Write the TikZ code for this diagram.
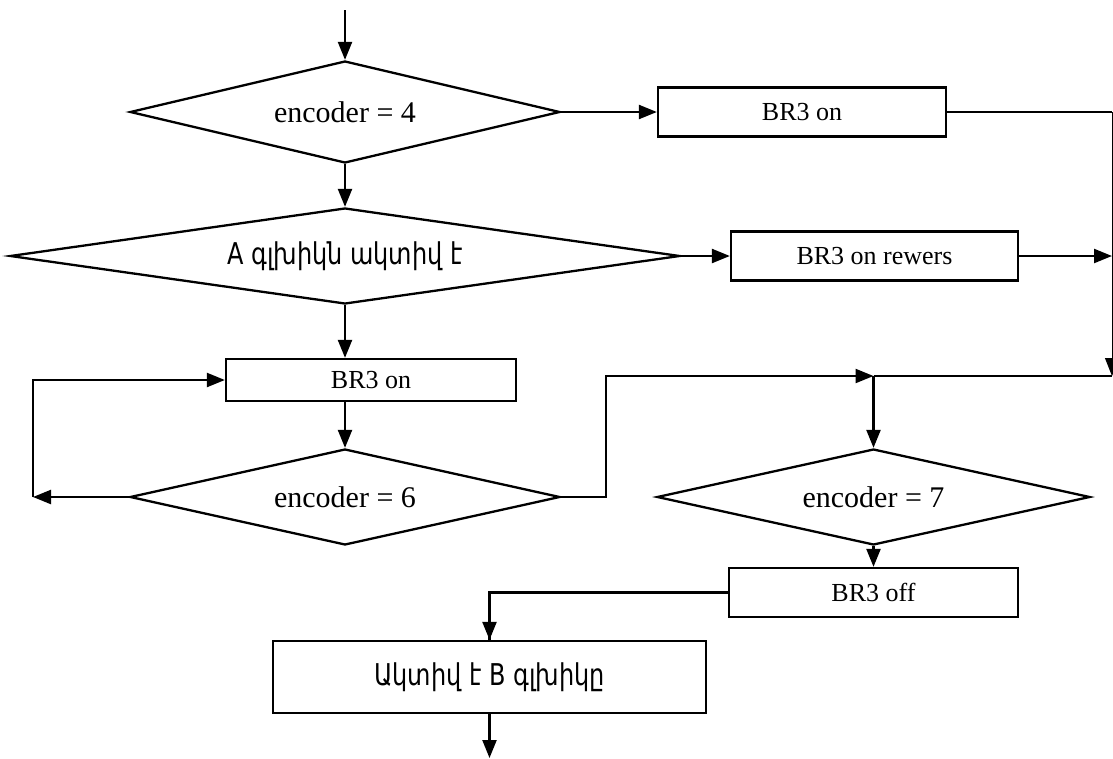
\documentclass[tikz,border=0pt]{standalone}
\usepackage{fontspec}
\setmainfont{Liberation Serif}
\newfontfamily\armfont[FakeStretch=0.8]{DejaVu Sans}
\usetikzlibrary{shapes.geometric,arrows.meta}
\begin{document}
\begin{tikzpicture}[x=1pt,y=-1pt,
  line width=2.3pt,
  tip/.style={-{Triangle[length=18pt,width=14pt]}},
  flow/.style={tip},
  decision/.style={draw,diamond,inner sep=0pt,font=\fontsize{30}{32}\selectfont},
  action/.style={draw,rectangle,inner sep=0pt,font=\fontsize{26}{28}\selectfont},
  armtext/.style={font=\armfont\fontsize{30}{32}\selectfont}]
\useasboundingbox (0,0) rectangle (1113,758);

% decisions
\node[decision,aspect=4.2,minimum width=430pt,minimum height=102pt] (d1) at (345,112) {encoder = 4};
\node[decision,armtext,aspect=7,minimum width=670pt,minimum height=96pt] (d2) at (345,256) {A գլխիկն ակտիվ  է};
\node[decision,aspect=4.5,minimum width=430pt,minimum height=96pt] (d3) at (345,497) {encoder = 6};
\node[decision,aspect=4.5,minimum width=433pt,minimum height=96pt] (d4) at (873.5,497) {encoder = 7};

% actions
\node[action,minimum width=288pt,minimum height=49pt] (b1) at (802,112) {BR3 on};
\node[action,minimum width=287pt,minimum height=49pt] (b2) at (874.5,256) {BR3 on rewers};
\node[action,minimum width=290pt,minimum height=42pt] (b3) at (371,380) {BR3 on};
\node[action,minimum width=289pt,minimum height=49pt] (b4) at (873.5,592.5) {BR3 off};
\node[action,armtext,minimum width=433pt,minimum height=72pt] (b5) at (489.5,677) {Ակտիվ է B գլխիկը};

% free ends and junctions
\coordinate (start) at (345,10);
\coordinate (stop) at (489.5,758);
\coordinate (rail) at (1112,376);
\coordinate (loop) at (33,497);
\coordinate (merge) at (873.5,376);

% connectors
\draw[flow] (start) -- (d1.north);
\draw[flow] (d1.east) -- (b1.west);
\draw[flow] (d1.south) -- (d2.north);
\draw[flow] (d2.east) -- (b2.west);
\draw (b1.east) -- (rail |- b1.east);
\draw[line width=1pt,-{Triangle[length=18pt,width=14pt]}] (rail |- b1.east) -- (rail);
\draw[flow] (b2.east) -- (rail |- b2.east);
\draw[flow] (d2.south) -- (d2.south |- b3.north);
\draw[flow] (d3.north |- b3.south) -- (d3.north);
\draw[flow] (d3.west) -- (loop);
\draw[flow] (loop) |- (b3.west);
\draw[flow] (d3.east) -- ++(45,0) |- (merge);
\draw (merge) -- (rail);
\draw[flow] (merge) -- (d4.north);
\draw[flow] (d4.south) -- (b4.north);
\draw (b4.west) -| (b5.north);
\draw[flow] (b5.north |- b4.west) -- (b5.north);
\draw[flow] (b5.south) -- (stop);
\end{tikzpicture}
\end{document}
